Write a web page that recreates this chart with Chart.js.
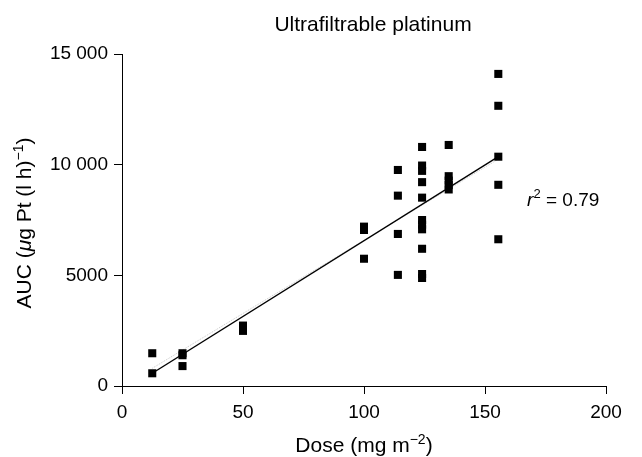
<!DOCTYPE html>
<html>
<head>
<meta charset="utf-8">
<script src="https://cdn.jsdelivr.net/npm/chart.js@4/dist/chart.umd.min.js"></script>
<style>
  html, body { margin: 0; padding: 0; background: #fff; }
  #wrap { width: 642px; height: 457px; }
</style>
</head>
<body>
<div id="wrap"><canvas id="chart" width="642" height="457"></canvas></div>
<script>
// dose groups (mg m-2) and AUC values
const doseGroups = [12.5, 25, 50, 100, 114, 124, 135, 155.5];
const aucGroups = [
  [1480, 575],
  [1480, 1390, 900],
  [2730, 2490],
  [7200, 7050, 5750],
  [9760, 8600, 6870, 5020],
  [10800, 9960, 9720, 9210, 8510, 7500, 7290, 7080, 6200, 5060, 4880],
  [10890, 9480, 9280, 9080, 8880],
  [14100, 12660, 10360, 9090, 6630],
];

// regression line ends
const fitX = [12.5, 155.5];
const fitY = [575, 10360];
const fitGreyY = [800, 10250];

const xTicks = [0, 50, 100, 150, 200];
const yTicks = [0, 5000, 10000, 15000];
const yTickLabels = ["0", "5000", "10 000", "15 000"];

const r2Text = "0.79";
const r2Pos = [167.4, 8140];

const FONT = '"Liberation Sans", Arial, Helvetica, sans-serif';
const TICK_SIZE = 19;
const TITLE_SIZE = 21;

const points = [];
doseGroups.forEach((d, i) => {
  aucGroups[i].forEach((v) => points.push({ x: d, y: v }));
});

// draw text made of normal / italic / superscript pieces
function drawRich(ctx, parts, x, y, align, size) {
  const fontOf = (p) =>
    (p.it ? "italic " : "") + (p.sup ? Math.round(size * 0.68) : size) + "px " + FONT;
  let total = 0;
  parts.forEach((p) => {
    ctx.font = fontOf(p);
    p.w = ctx.measureText(p.t).width;
    total += p.w;
  });
  let cx = align === "center" ? x - total / 2 : x;
  ctx.textAlign = "left";
  ctx.textBaseline = "alphabetic";
  parts.forEach((p) => {
    ctx.font = fontOf(p);
    ctx.fillText(p.t, cx, p.sup ? y - size * 0.4 : y);
    cx += p.w;
  });
}

const labelsPlugin = {
  id: "labels",
  afterDraw(chart) {
    const ctx = chart.ctx;
    const a = chart.chartArea;
    const xs = chart.scales.x;
    const ys = chart.scales.y;
    ctx.save();
    ctx.fillStyle = "#000";

    // title
    drawRich(ctx, [{ t: "Ultrafiltrable platinum" }], a.left + 251, a.top - 23, "center", TITLE_SIZE);

    // x title
    drawRich(ctx, [{ t: "Dose (mg m" }, { t: "\u22122", sup: true }, { t: ")" }],
      (a.left + a.right) / 2, a.bottom + 66, "center", TITLE_SIZE);

    // y title
    ctx.save();
    ctx.translate(a.left - 91, (a.top + a.bottom) / 2 + 3);
    ctx.rotate(-Math.PI / 2);
    drawRich(ctx, [
      { t: "AUC (" }, { t: "\u03bc", it: true }, { t: "g Pt (l h)" },
      { t: "\u22121", sup: true }, { t: ")" },
    ], 0, 0, "center", TITLE_SIZE);
    ctx.restore();

    // r squared
    drawRich(ctx, [{ t: "r", it: true }, { t: "2", sup: true }, { t: " = " + r2Text }],
      xs.getPixelForValue(r2Pos[0]), ys.getPixelForValue(r2Pos[1]), "left", 19);
    ctx.restore();
  },
};

new Chart(document.getElementById("chart").getContext("2d"), {
  type: "scatter",
  data: {
    datasets: [
      {
        label: "fit (grey)",
        data: fitX.map((x, i) => ({ x, y: fitGreyY[i] })),
        showLine: true,
        borderColor: "#c8c8c8",
        borderWidth: 1,
        borderDash: [1, 1],
        pointRadius: 0,
        order: 3,
      },
      {
        label: "fit",
        data: fitX.map((x, i) => ({ x, y: fitY[i] })),
        showLine: true,
        borderColor: "#000",
        borderWidth: 1.4,
        pointRadius: 0,
        order: 2,
      },
      {
        label: "AUC",
        data: points,
        pointStyle: "rect",
        pointRadius: 5.7,
        pointBackgroundColor: "#000",
        pointBorderWidth: 0,
        showLine: false,
        order: 1,
      },
    ],
  },
  options: {
    responsive: false,
    devicePixelRatio: 1,
    animation: false,
    layout: { padding: { top: 54, right: 36, left: 0, bottom: 0 } },
    plugins: { legend: { display: false }, tooltip: { enabled: false } },
    scales: {
      x: {
        type: "linear",
        min: 0,
        max: 200,
        afterBuildTicks: (s) => { s.ticks = xTicks.map((v) => ({ value: v })); },
        afterFit: (s) => { s.height = 71; },
        ticks: {
          color: "#000",
          font: { family: FONT, size: TICK_SIZE },
          padding: 7,
          maxRotation: 0,
        },
        grid: { drawOnChartArea: false, drawTicks: true, tickLength: 8, color: "#000", lineWidth: 1 },
        border: { display: true, color: "#000", width: 1 },
      },
      y: {
        type: "linear",
        min: 0,
        max: 15000,
        afterBuildTicks: (s) => { s.ticks = yTicks.map((v) => ({ value: v })); },
        afterFit: (s) => { s.width = 122; },
        ticks: {
          color: "#000",
          font: { family: FONT, size: TICK_SIZE },
          padding: 6,
          callback: (v) => yTickLabels[yTicks.indexOf(v)],
        },
        grid: { drawOnChartArea: false, drawTicks: true, tickLength: 8, color: "#000", lineWidth: 1 },
        border: { display: true, color: "#000", width: 1 },
      },
    },
  },
  plugins: [labelsPlugin],
});
</script>
</body>
</html>
